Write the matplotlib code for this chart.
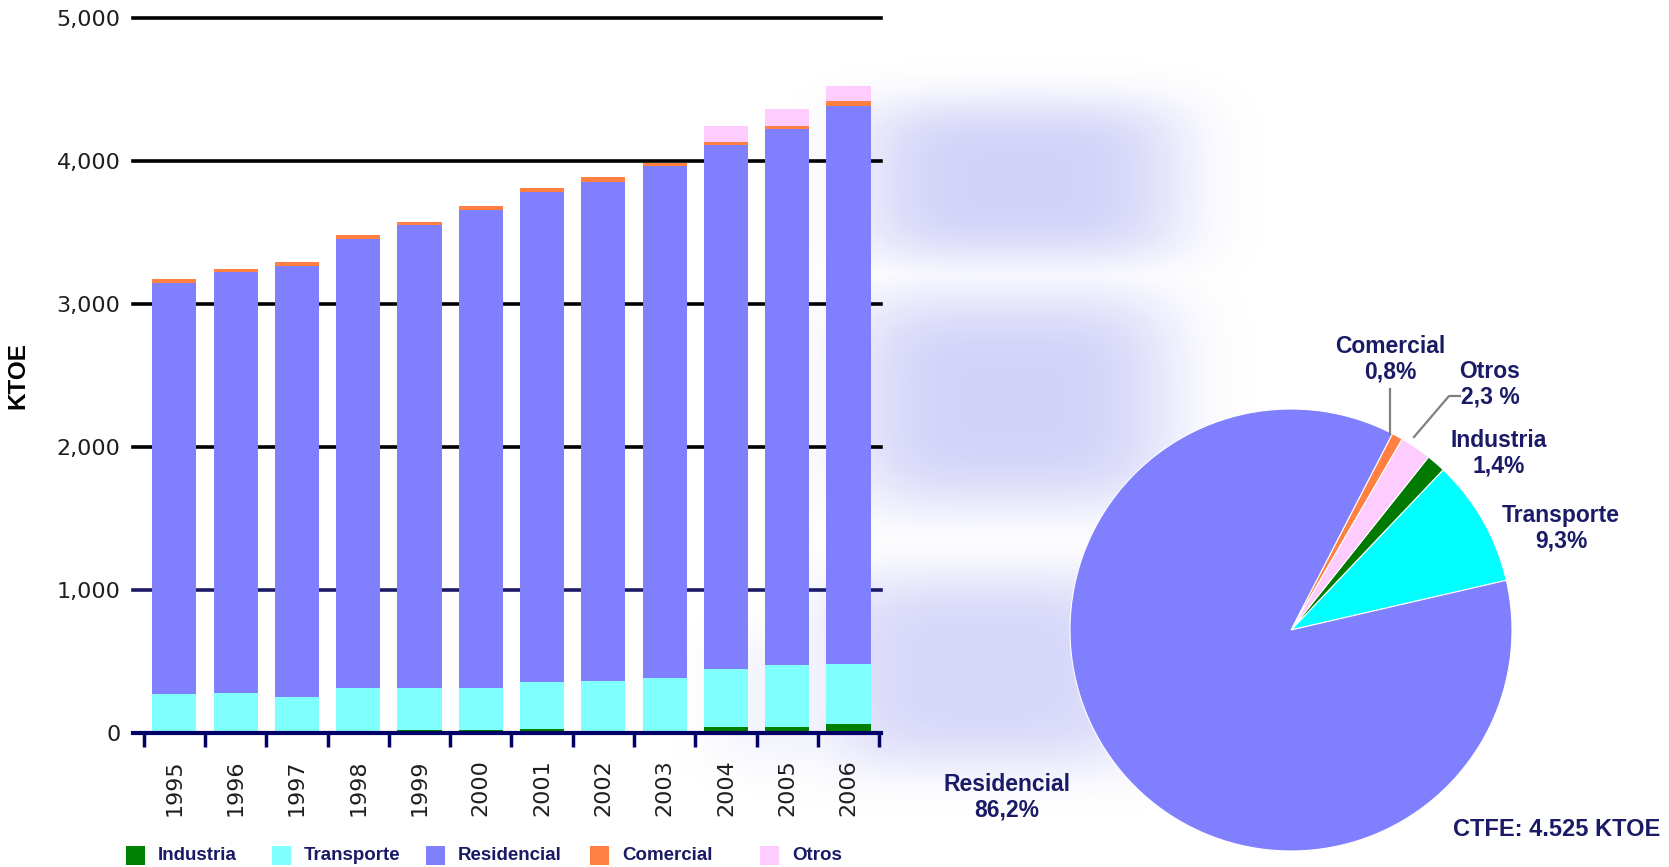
import numpy as np
import matplotlib
matplotlib.use("Agg")
from matplotlib import pyplot as plt
from matplotlib.lines import Line2D
from matplotlib.patches import Rectangle

# data (KTOE)
years = ["1995", "1996", "1997", "1998", "1999", "2000",
         "2001", "2002", "2003", "2004", "2005", "2006"]
industria = [0, 0, 0, 14, 21, 21, 28, 7, 14, 39, 39, 63]
transporte = [273, 282, 255, 301, 294, 294, 326, 356, 370, 408, 435, 421]
residencial = [2873, 2940, 3009, 3143, 3234, 3345, 3426, 3493, 3581, 3664, 3750, 3900]
comercial = [28, 21, 30, 28, 25, 28, 30, 30, 23, 21, 21, 36]
otros = [0, 0, 0, 0, 0, 0, 0, 0, 0, 113, 116, 104]
yticks = [0, 1000, 2000, 3000, 4000, 5000]

# pie 2006 shares (%)
pie_names = ["Transporte", "Industria", "Otros", "Comercial", "Residencial"]
pie_pct = [9.3, 1.4, 2.3, 0.8, 86.2]
pie_txt = ["9,3%", "1,4%", "2,3 %", "0,8%", "86,2%"]

W, H = 1669, 867
navy = "#1a1a66"
bar_cols = {"Industria": "#008000", "Transporte": "#80ffff", "Residencial": "#8080ff",
            "Comercial": "#ff8040", "Otros": "#ffccff"}
pie_cols = ["#00ffff", "#007a00", "#ffccff", "#ff8040", "#8080ff"]

fig = plt.figure(figsize=(W / 100, H / 100), dpi=100)

# blurry background decoration
bg = fig.add_axes([0, 0, 1, 1], zorder=-5)
bg.axis("off")
yy, xx = np.mgrid[0:H, 0:W]
alpha = np.zeros((H, W))
for cx, cy, sx, sy, a in [(1020, 180, 165, 82, 0.44), (1010, 400, 165, 110, 0.44),
                          (985, 670, 165, 100, 0.40), (820, 700, 110, 70, 0.12)]:
    alpha = np.maximum(alpha, a * np.exp(-(((xx - cx) / sx) ** 4 + ((yy - cy) / sy) ** 4)))
img = np.zeros((H, W, 4))
img[..., 0] = 0.6
img[..., 1] = 0.6
img[..., 2] = 0.95
img[..., 3] = alpha
bg.imshow(img, extent=[0, W, H, 0], aspect="auto")
bg.set_xlim(0, W)
bg.set_ylim(H, 0)

# stacked bars
ax = fig.add_axes([133 / W, (H - 733) / H, (881 - 133) / W, (733 - 18) / H])
ax.patch.set_alpha(0)
x = np.arange(len(years))
bottom = np.zeros(len(years))
for name, vals in [("Industria", industria), ("Transporte", transporte),
                   ("Residencial", residencial), ("Comercial", comercial), ("Otros", otros)]:
    ax.bar(x, vals, width=0.72, bottom=bottom, color=bar_cols[name], zorder=3, linewidth=0)
    bottom += np.array(vals)

for v in yticks[1:]:
    ax.axhline(v, color=navy if v == 1000 else "black", lw=2.6, zorder=1, clip_on=False)

ax.set_ylim(0, 5000)
ax.set_xlim(-0.675, 11.53)
for s in ["top", "right", "left"]:
    ax.spines[s].set_visible(False)
ax.spines["bottom"].set_color("#000066")
ax.spines["bottom"].set_linewidth(3)
ax.spines["bottom"].set_zorder(4)
ax.set_yticks(yticks)
ax.set_yticklabels(["{:,}".format(v) for v in yticks], fontsize=16, color="#1e1e1e")
ax.tick_params(axis="y", length=0, pad=9)
ax.set_xticks(x)
ax.set_xticklabels(years, rotation=90, fontsize=16, color="#1e1e1e")
ax.tick_params(axis="x", which="major", length=0, pad=19)
ax.set_xticks(np.arange(-0.5, 12), minor=True)
ax.tick_params(axis="x", which="minor", length=10, width=2.5, color="#000066", direction="out")
ax.set_ylabel("KTOE", fontsize=17.5, fontweight="bold", family="Liberation Sans")
ax.yaxis.set_label_coords(-0.138, 0.5)

# legend, placed by hand like the original
leg_x = [126, 272, 426, 590, 760]
leg_y = 855
for lx, n in zip(leg_x, bar_cols):
    fig.add_artist(Rectangle((lx / W, (H - leg_y - 9.5) / H), 19 / W, 19 / H,
                             facecolor=bar_cols[n], edgecolor="none", transform=fig.transFigure))
    fig.text((lx + 32) / W, 1 - leg_y / H, n, ha="left", va="center", color=navy,
             fontsize=13.5, fontweight="bold", family="Liberation Sans")

# pie
r = 221
cx, cy = 1291, 630
ax2 = fig.add_axes([(cx - r) / W, (H - cy - r) / H, 2 * r / W, 2 * r / H])
ax2.pie(pie_pct, colors=pie_cols, startangle=13, counterclock=True,
        wedgeprops={"edgecolor": "white", "linewidth": 0.8})
ax2.set_xlim(-1, 1)
ax2.set_ylim(-1, 1)
ax2.set_aspect("auto")

lab_pos = {"Transporte": (1561, 528), "Industria": (1499, 453), "Otros": (1490, 384),
           "Comercial": (1390, 359), "Residencial": (1007, 797)}
for n, t in zip(pie_names, pie_txt):
    px, py = lab_pos[n]
    fig.text(px / W, 1 - py / H, n + "\n" + t, ha="center", va="center", color=navy,
             fontsize=16.5, fontweight="bold", family="Liberation Sans", linespacing=1.12)

fig.add_artist(Line2D([1390 / W, 1390 / W], [1 - 389 / H, 1 - 434 / H], color="#808080", lw=1.6))
fig.add_artist(Line2D([1460 / W, 1449 / W, 1414 / W], [1 - 396 / H, 1 - 396 / H, 1 - 437 / H],
                      color="#808080", lw=1.6))

fig.text(1660 / W, 1 - 829 / H, "CTFE: 4.525 KTOE", ha="right", va="center", color=navy,
         fontsize=17, fontweight="bold", family="Liberation Sans")

fig.savefig("out.png", dpi=100)
